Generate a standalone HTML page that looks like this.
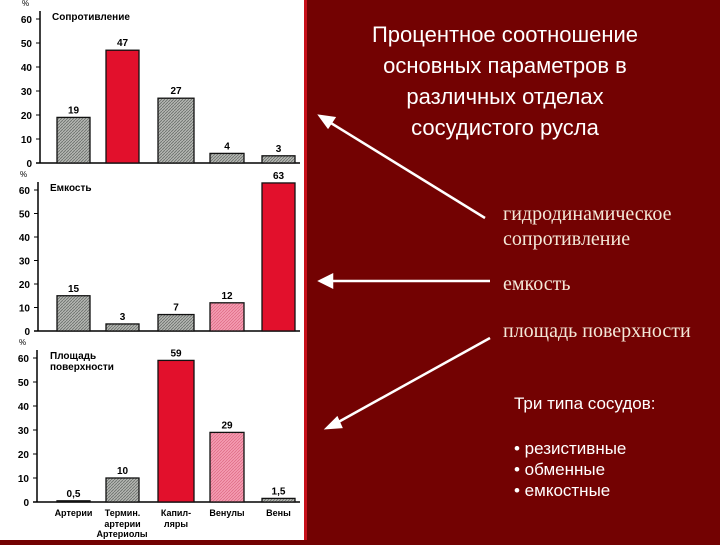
<!DOCTYPE html>
<html><head><meta charset="utf-8"><style>
html,body{margin:0;width:720px;height:540px;overflow:hidden;background:#730202;font-family:"Liberation Sans",sans-serif}
#left{position:absolute;left:0;top:0;width:304px;height:540px;background:#fff}
#sep{position:absolute;left:304px;top:0;width:3px;height:540px;background:#c8101a}
.t{position:absolute;color:#fff}
.s{font-family:'Liberation Serif',serif;font-size:20px;color:#f4e8d8}
</style></head><body>
<div id="left">
<svg id="svg" width="304" height="540">
<defs><pattern id="hatch" width="3" height="3" patternUnits="userSpaceOnUse"><rect width="3" height="3" fill="#b4b6b2"/><path d="M0,3L3,0" stroke="#6a6e6a" stroke-width="0.8"/></pattern>
<pattern id="hatchp" width="3" height="3" patternUnits="userSpaceOnUse"><rect width="3" height="3" fill="#f49ab0"/><path d="M0,3L3,0" stroke="#d8607a" stroke-width="0.6"/></pattern></defs>
</svg></div>
<div id="sep"></div>
<div class="t" style="left:305px;top:19px;width:400px;text-align:center;font-size:22px;line-height:31px;white-space:nowrap">Процентное соотношение<br>основных параметров в<br>различных отделах<br>сосудистого русла</div>
<svg style="position:absolute;left:0;top:0" width="720" height="540">
<g stroke="#fff" stroke-width="2.5" fill="#fff">
<line x1="485" y1="218" x2="326" y2="120"/><path d="M320,116 L334,118 L328,127Z"/>
<line x1="490" y1="281" x2="326" y2="281"/><path d="M320,281 L332,275 L332,287Z"/>
<line x1="490" y1="338" x2="333" y2="425"/><path d="M327,428 L337,418 L341,427Z"/>
</g></svg>
<div class="t s" style="left:503px;top:202px;line-height:25px">гидродинамическое<br>сопротивление</div>
<div class="t s" style="left:503px;top:273px">емкость</div>
<div class="t s" style="left:503px;top:320px">площадь поверхности</div>
<div class="t" style="left:514px;top:394px;font-size:17px">Три типа сосудов:</div>
<div class="t" style="left:514px;top:438px;font-size:17px;line-height:21px">• резистивные<br>• обменные<br>• емкостные</div>
<script>
const categories=["Артерии","Термин. артерии Артериолы","Капилляры","Венулы","Вены"];
const resistVals=[19,47,27,4,3];
const capVals=[15,3,7,12,63];
const surfVals=[0.5,10,59,29,1.5];
const surfLabels=["0,5","10","59","29","1,5"];
const yTicks=[0,10,20,30,40,50,60];
const NS="http://www.w3.org/2000/svg";
const svg=document.getElementById('svg');
function mk(t,a,p){const e=document.createElementNS(NS,t);for(const k in a)e.setAttribute(k,a[k]);(p||svg).appendChild(e);return e;}
const barX=[57,106,158,210,262],barW=[33,33,36,34,33];
function chart(name,title,vals,labels,fills,y0,y60,ax){
  const g=mk('g',{});
  
  
  const ys=v=>y0-(y0-y60)*v/60;
  mk('line',{x1:ax,y1:y60-8,x2:ax,y2:y0,stroke:'#000','stroke-width':1.5},g);
  mk('line',{x1:ax-4,y1:y0,x2:300,y2:y0,stroke:'#000','stroke-width':1.5},g);
  mk('text',{x:ax-18,y:y60-13,'font-size':8,fill:'#000'},g).textContent='%';
  yTicks.forEach(t=>{const y=ys(t);
    mk('line',{x1:ax-4,y1:y,x2:ax,y2:y,stroke:'#000'},g);
    const tx=mk('text',{x:ax-8,y:y+4,'font-size':10,'font-weight':'bold','text-anchor':'end',fill:'#000'},g);tx.textContent=t;
    
  });
  const tt=mk('text',{x:ax+12,y:y60+1,'font-size':10,'font-weight':'bold',fill:'#000'},g);tt.innerHTML=title;
  
  vals.forEach((v,i)=>{const y=ys(v);
    const r=mk('rect',{x:barX[i],y:y,width:barW[i],height:y0-y,fill:fills[i],stroke:'#111','stroke-width':1.3},g);
    
    
    const l=mk('text',{x:barX[i]+barW[i]/2,y:y-4,'font-size':10,'font-weight':'bold','text-anchor':'middle',fill:'#000'},g);
    l.textContent=labels?labels[i]:v;
    
  });
}
const G='url(#hatch)',R='#e2102c',P='url(#hatchp)';
chart('resistance-chart','Сопротивление',resistVals,null,[G,R,G,G,G],163,19,40);
chart('capacity-chart','Емкость',capVals,null,[G,G,G,P,R],331,190,38);
chart('surface-chart','<tspan x="50">Площадь</tspan><tspan x="50" dy="11">поверхности</tspan>',surfVals,surfLabels,[G,G,R,P,G],502,358,37);
const xl=[["Артерии"],["Термин.","артерии"],["Капил-","ляры"],["Венулы"],["Вены"]];
xl.forEach((ls,i)=>ls.forEach((s,j)=>{const t=mk('text',{x:barX[i]+barW[i]/2,y:516+j*11,'font-size':9,'font-weight':'bold','text-anchor':'middle',fill:'#000'});t.textContent=s;
  }));
const a=mk('text',{x:122,y:537,'font-size':9,'font-weight':'bold','text-anchor':'middle',fill:'#000'});a.textContent='Артериолы';

</script>
</body></html>
